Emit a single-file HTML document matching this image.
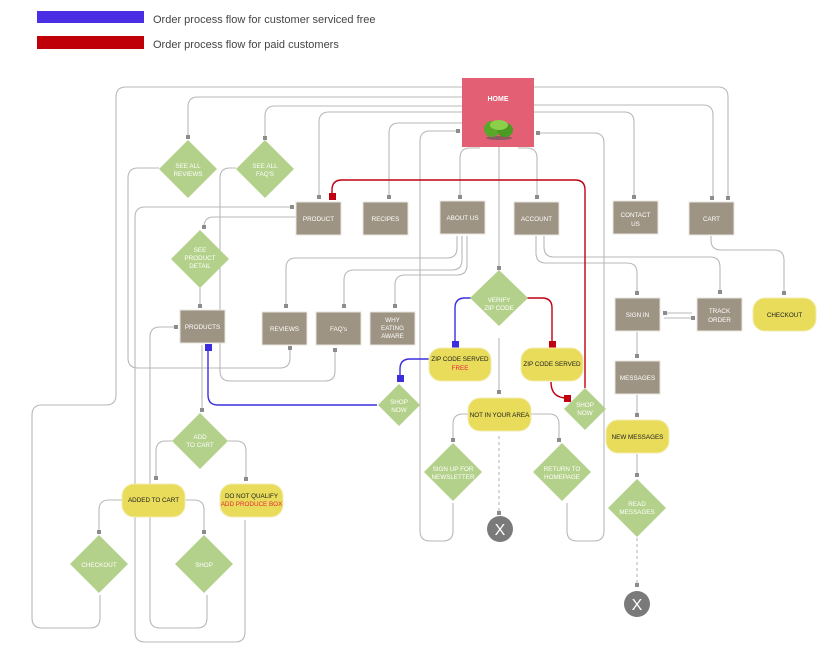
<!DOCTYPE html>
<html><head><meta charset="utf-8"><style>
html,body{margin:0;padding:0;background:#fff;}
svg{display:block;}
.t{font-family:"Liberation Sans",sans-serif;font-size:6.3px;fill:#fff;text-anchor:middle;}
.d{font-family:"Liberation Sans",sans-serif;font-size:6.3px;fill:#222;text-anchor:middle;}
.g{fill:none;stroke:#b8b8b8;stroke-width:1.1;}
.gd{fill:none;stroke:#b8b8b8;stroke-width:1.1;stroke-dasharray:3 3;}
.r{fill:none;stroke:#c00010;stroke-width:1.4;}
.b{fill:none;stroke:#3b2ee0;stroke-width:1.4;}
.box{fill:#9e9483;stroke:#e8e4dc;stroke-width:1;}
.dia{fill:#b3d18a;}
.pill{fill:#e8dc5a;stroke:#f3ecb0;stroke-width:1;}
.m{fill:#8c8c8c;}
</style></head><body>
<svg width="837" height="660" viewBox="0 0 837 660" xmlns="http://www.w3.org/2000/svg">
<!-- legend -->
<rect x="37" y="11" width="107" height="12" fill="#4a2ee3"/>
<rect x="37" y="36" width="107" height="13" fill="#c00008"/>
<text x="153" y="23" font-family="Liberation Sans,sans-serif" font-size="11" fill="#444">Order process flow for customer serviced free</text>
<text x="153" y="48" font-family="Liberation Sans,sans-serif" font-size="11" fill="#444">Order process flow for paid customers</text>

<!-- gray connectors -->
<path class="g" d="M462 87 H126 Q116 87 116 97 V395 Q116 405 106 405 H42 Q32 405 32 415 V618 Q32 628 42 628 H90 Q100 628 100 618 V595"/>
<path class="g" d="M462 97 H198 Q188 97 188 107 V137"/>
<path class="g" d="M462 106 H275 Q265 106 265 116 V137"/>
<path class="g" d="M462 112 H329 Q319 112 319 122 V197"/>
<path class="g" d="M462 123 H399 Q389 123 389 133 V197"/>
<path class="g" d="M458 131 H430 Q420 131 420 141 V531 Q420 541 430 541 H443 Q453 541 453 531 V503"/>
<path class="g" d="M499 147 V268"/>
<path class="g" d="M480 148 H470 Q460 148 460 158 V197"/>
<path class="g" d="M518 148 H527 Q537 148 537 158 V197"/>
<path class="g" d="M534 87 H718 Q728 87 728 97 V197"/>
<path class="g" d="M534 105 H703 Q713 105 713 115 V197"/>
<path class="g" d="M534 112 H624 Q634 112 634 122 V197"/>
<path class="g" d="M538 133 H594 Q604 133 604 143 V531 Q604 541 594 541 H577 Q567 541 567 531 V503"/>
<path class="g" d="M457 236 V248 Q457 258 447 258 H296 Q286 258 286 268 V306"/>
<path class="g" d="M462 236 V260 Q462 270 452 270 H354 Q344 270 344 280 V306"/>
<path class="g" d="M467 236 V265 Q467 275 457 275 H405 Q395 275 395 285 V306"/>
<path class="g" d="M536 236 V253 Q536 263 546 263 H627 Q637 263 637 273 V293"/>
<path class="g" d="M544 236 V247 Q544 257 554 257 H710 Q720 257 720 267 V292"/>
<path class="g" d="M711 236 V240 Q711 250 721 250 H774 Q784 250 784 260 V293"/>
<path class="g" d="M664 313 H692"/>
<path class="g" d="M664 318 H692"/>
<path class="g" d="M637 332 V356"/>
<path class="g" d="M637 395 V415"/>
<path class="g" d="M637 454 V475"/>
<path class="gd" d="M637 538 V585"/>
<path class="g" d="M499 338 V392"/>
<path class="g" d="M468 414 H463 Q453 414 453 424 V440"/>
<path class="g" d="M531 414 H549 Q559 414 559 424 V440"/>
<path class="gd" d="M499 436 V513"/>
<path class="g" d="M292 207 H145 Q135 207 135 217 V632 Q135 642 145 642 H235 Q245 642 245 632 V520"/>
<path class="g" d="M296 217 H214 Q204 217 204 227"/>
<path class="g" d="M200 287 V306"/>
<path class="g" d="M176 327 H160 Q150 327 150 337 V618 Q150 628 160 628 H197 Q207 628 207 618 V595"/>
<path class="g" d="M159 168 H138 Q128 168 128 178 V358 Q128 368 138 368 H280 Q290 368 290 358 V348"/>
<path class="g" d="M236 168 H230 Q220 168 220 178 V371 Q220 381 230 381 H325 Q335 381 335 371 V350"/>
<path class="g" d="M202 345 V410"/>
<path class="g" d="M172 441 H166 Q156 441 156 451 V478"/>
<path class="g" d="M228 441 H236 Q246 441 246 451 V479"/>
<path class="g" d="M122 500 H109 Q99 500 99 510 V532"/>
<path class="g" d="M185 500 H194 Q204 500 204 510 V532"/>

<!-- red -->
<path class="r" d="M332 196 V190 Q332 180 342 180 H575 Q585 180 585 190 V388"/>
<path class="r" d="M527 298 H542 Q552 298 552 308 V343"/>
<path class="r" d="M551 382 Q551 398 567 398"/>
<!-- blue -->
<path class="b" d="M471 298 H465 Q455 298 455 308 V343"/>
<path class="b" d="M429 359 H410 Q400 359 400 369 V378"/>
<path class="b" d="M377 405 H218 Q208 405 208 395 V348"/>

<!-- markers -->
<g class="m">
<rect x="186" y="135" width="4" height="4"/><rect x="263" y="136" width="4" height="4"/>
<rect x="317" y="195" width="4" height="4"/><rect x="387" y="195" width="4" height="4"/>
<rect x="458" y="195" width="4" height="4"/><rect x="535" y="195" width="4" height="4"/>
<rect x="632" y="195" width="4" height="4"/><rect x="710" y="196" width="4" height="4"/><rect x="726" y="196" width="4" height="4"/>
<rect x="456" y="129" width="4" height="4"/><rect x="536" y="131" width="4" height="4"/>
<rect x="497" y="266" width="4" height="4"/>
<rect x="290" y="205" width="4" height="4"/><rect x="202" y="225" width="4" height="4"/>
<rect x="198" y="304" width="4" height="4"/><rect x="174" y="325" width="4" height="4"/>
<rect x="284" y="304" width="4" height="4"/><rect x="342" y="304" width="4" height="4"/><rect x="393" y="304" width="4" height="4"/>
<rect x="288" y="346" width="4" height="4"/><rect x="333" y="348" width="4" height="4"/>
<rect x="635" y="291" width="4" height="4"/><rect x="718" y="290" width="4" height="4"/><rect x="782" y="291" width="4" height="4"/>
<rect x="663" y="311" width="4" height="4"/><rect x="691" y="316" width="4" height="4"/>
<rect x="635" y="354" width="4" height="4"/><rect x="635" y="413" width="4" height="4"/><rect x="635" y="473" width="4" height="4"/><rect x="635" y="583" width="4" height="4"/>
<rect x="497" y="390" width="4" height="4"/><rect x="451" y="438" width="4" height="4"/><rect x="557" y="438" width="4" height="4"/><rect x="497" y="511" width="4" height="4"/>
<rect x="200" y="408" width="4" height="4"/><rect x="154" y="476" width="4" height="4"/><rect x="244" y="477" width="4" height="4"/>
<rect x="97" y="530" width="4" height="4"/><rect x="202" y="530" width="4" height="4"/>
</g>
<rect x="329" y="193" width="7" height="7" fill="#c00010"/>
<rect x="549" y="341" width="7" height="7" fill="#c00010"/>
<rect x="564" y="395" width="7" height="7" fill="#c00010"/>
<rect x="452" y="341" width="7" height="7" fill="#3b2ee0"/>
<rect x="397" y="375" width="7" height="7" fill="#3b2ee0"/>
<rect x="205" y="344" width="7" height="7" fill="#3b2ee0"/>

<!-- HOME -->
<rect x="462" y="78" width="72" height="69" fill="#e35f73"/>
<text x="498" y="101" font-family="Liberation Sans,sans-serif" font-size="7" font-weight="bold" fill="#fff" text-anchor="middle">HOME</text>
<ellipse cx="499" cy="138" rx="13" ry="2" fill="#555" opacity="0.6"/>
<ellipse cx="492" cy="129" rx="8" ry="8" fill="#5aa82a"/>
<ellipse cx="505" cy="130" rx="8" ry="7" fill="#4c9a22"/>
<ellipse cx="499" cy="125" rx="9" ry="5" fill="#8ccf4a"/>

<!-- boxes -->
<rect class="box" x="296" y="202" width="45" height="33"/><text class="t" x="318.5" y="221">PRODUCT</text>
<rect class="box" x="363" y="202" width="45" height="33"/><text class="t" x="385.5" y="221">RECIPES</text>
<rect class="box" x="440" y="201" width="45" height="33"/><text class="t" x="462.5" y="220">ABOUT US</text>
<rect class="box" x="514" y="202" width="45" height="33"/><text class="t" x="536.5" y="221">ACCOUNT</text>
<rect class="box" x="613" y="201" width="45" height="33"/><text class="t" x="635.5" y="217">CONTACT</text><text class="t" x="635.5" y="226">US</text>
<rect class="box" x="689" y="202" width="45" height="33"/><text class="t" x="711.5" y="221">CART</text>
<rect class="box" x="180" y="310" width="45" height="33"/><text class="t" x="202.5" y="329">PRODUCTS</text>
<rect class="box" x="262" y="312" width="45" height="33"/><text class="t" x="284.5" y="331">REVIEWS</text>
<rect class="box" x="316" y="312" width="45" height="33"/><text class="t" x="338.5" y="331">FAQ's</text>
<rect class="box" x="370" y="312" width="45" height="33"/><text class="t" x="392.5" y="322">WHY</text><text class="t" x="392.5" y="330">EATING</text><text class="t" x="392.5" y="338">AWARE</text>
<rect class="box" x="615" y="298" width="45" height="33"/><text class="t" x="637.5" y="317">SIGN IN</text>
<rect class="box" x="697" y="298" width="45" height="33"/><text class="t" x="719.5" y="313">TRACK</text><text class="t" x="719.5" y="322">ORDER</text>
<rect class="box" x="615" y="361" width="45" height="33"/><text class="t" x="637.5" y="380">MESSAGES</text>

<!-- diamonds -->
<polygon class="dia" points="188,140 217,169 188,198 159,169"/><text class="t" x="188" y="168">SEE ALL</text><text class="t" x="188" y="176">REVIEWS</text>
<polygon class="dia" points="265,140 294,169 265,198 236,169"/><text class="t" x="265" y="168">SEE ALL</text><text class="t" x="265" y="176">FAQ'S</text>
<polygon class="dia" points="200,230 229,259 200,288 171,259"/><text class="t" x="200" y="252">SEE</text><text class="t" x="200" y="260">PRODUCT</text><text class="t" x="200" y="268">DETAIL</text>
<polygon class="dia" points="499,270 528,298 499,326 470,298"/><text class="t" x="499" y="302">VERIFY</text><text class="t" x="499" y="310">ZIP CODE</text>
<polygon class="dia" points="399,384 420,405 399,426 378,405"/><text class="t" x="399" y="404">SHOP</text><text class="t" x="399" y="412">NOW</text>
<polygon class="dia" points="585,388 606,409 585,430 564,409"/><text class="t" x="585" y="407">SHOP</text><text class="t" x="585" y="415">NOW</text>
<polygon class="dia" points="200,413 228,441 200,469 172,441"/><text class="t" x="200" y="439">ADD</text><text class="t" x="200" y="447">TO CART</text>
<polygon class="dia" points="99,535 128,564 99,593 70,564"/><text class="t" x="99" y="567">CHECKOUT</text>
<polygon class="dia" points="204,535 233,564 204,593 175,564"/><text class="t" x="204" y="567">SHOP</text>
<polygon class="dia" points="453,443 482,472 453,501 424,472"/><text class="t" x="453" y="471">SIGN UP FOR</text><text class="t" x="453" y="479">NEWSLETTER</text>
<polygon class="dia" points="562,443 591,472 562,501 533,472"/><text class="t" x="562" y="471">RETURN TO</text><text class="t" x="562" y="479">HOMEPAGE</text>
<polygon class="dia" points="637,479 666,508 637,537 608,508"/><text class="t" x="637" y="506">READ</text><text class="t" x="637" y="514">MESSAGES</text>

<!-- pills -->
<rect class="pill" x="429" y="348" width="62" height="33" rx="12"/><text class="d" x="460" y="361">ZIP CODE SERVED</text><text class="d" x="460" y="370" style="fill:#e8283a">FREE</text>
<rect class="pill" x="521" y="348" width="62" height="33" rx="12"/><text class="d" x="552" y="366">ZIP CODE SERVED</text>
<rect class="pill" x="468" y="398" width="63" height="33" rx="12"/><text class="d" x="499.5" y="417">NOT IN YOUR AREA</text>
<rect class="pill" x="753" y="298" width="63" height="33" rx="12"/><text class="d" x="784.5" y="317">CHECKOUT</text>
<rect class="pill" x="606" y="420" width="63" height="33" rx="12"/><text class="d" x="637.5" y="439">NEW MESSAGES</text>
<rect class="pill" x="122" y="484" width="63" height="33" rx="12"/><text class="d" x="153.5" y="502">ADDED TO CART</text>
<rect class="pill" x="220" y="484" width="63" height="33" rx="12"/><text class="d" x="251.5" y="498">DO NOT QUALIFY</text><text class="d" x="251.5" y="506" style="fill:#e8283a">ADD PRODUCE BOX</text>

<!-- X circles -->
<circle cx="500" cy="529" r="13" fill="#7a7a7a"/><text x="500" y="535" font-family="Liberation Sans,sans-serif" font-size="16" fill="#fff" text-anchor="middle">X</text>
<circle cx="637" cy="604" r="13" fill="#7a7a7a"/><text x="637" y="610" font-family="Liberation Sans,sans-serif" font-size="16" fill="#fff" text-anchor="middle">X</text>
</svg>
</body></html>
